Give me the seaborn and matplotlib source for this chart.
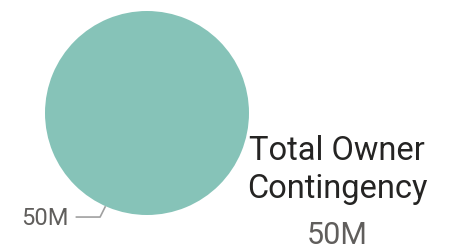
import matplotlib
matplotlib.use("Agg")
import matplotlib.pyplot as plt
import numpy as np
import seaborn as sns

# data
categories = ["Total Owner Contingency"]
values = [50_000_000]
value_labels = ["50M"]
slice_colors = ["#86C3B8"]

sns.set_theme(style="white")
plt.rcParams["font.family"] = ["Roboto", "DejaVu Sans"]

fig = plt.figure(figsize=(4.61, 2.5), dpi=100)
ax = fig.add_axes([45 / 461, 35 / 250, 204 / 461, 204 / 250])

wedges, _ = ax.pie(values, colors=slice_colors, startangle=90, counterclock=False,
                   wedgeprops=dict(linewidth=0))
ax.set_xlim(-1, 1)
ax.set_ylim(-1, 1)
ax.set_aspect("equal")
ax.axis("off")

# leader line + outside label
ang = np.deg2rad(246)
x0, y0 = np.cos(ang), np.sin(ang)
elbow = (-0.46, -1.02)
end = (-0.70, -1.02)
ax.plot([x0, elbow[0], end[0]], [y0, elbow[1], end[1]], color="#A0A0A0",
        lw=1.2, clip_on=False, solid_capstyle="butt")
ax.text(end[0] - 0.07, end[1] - 0.01, value_labels[0], ha="right", va="center",
        fontsize=17, color="#605E5C", clip_on=False)

# legend-like category label, wrapped on two lines
cat_text = "\n".join(categories[0].rsplit(" ", 1))
fig.text(337 / 461, 1 - 135 / 250, cat_text, ha="center", va="top",
         fontsize=23.5, color="#252423", linespacing=1.25)
fig.text(337 / 461, 1 - 236 / 250, value_labels[0], ha="center", va="center",
         fontsize=22, color="#605E5C")

fig.savefig("out.png", dpi=100)
